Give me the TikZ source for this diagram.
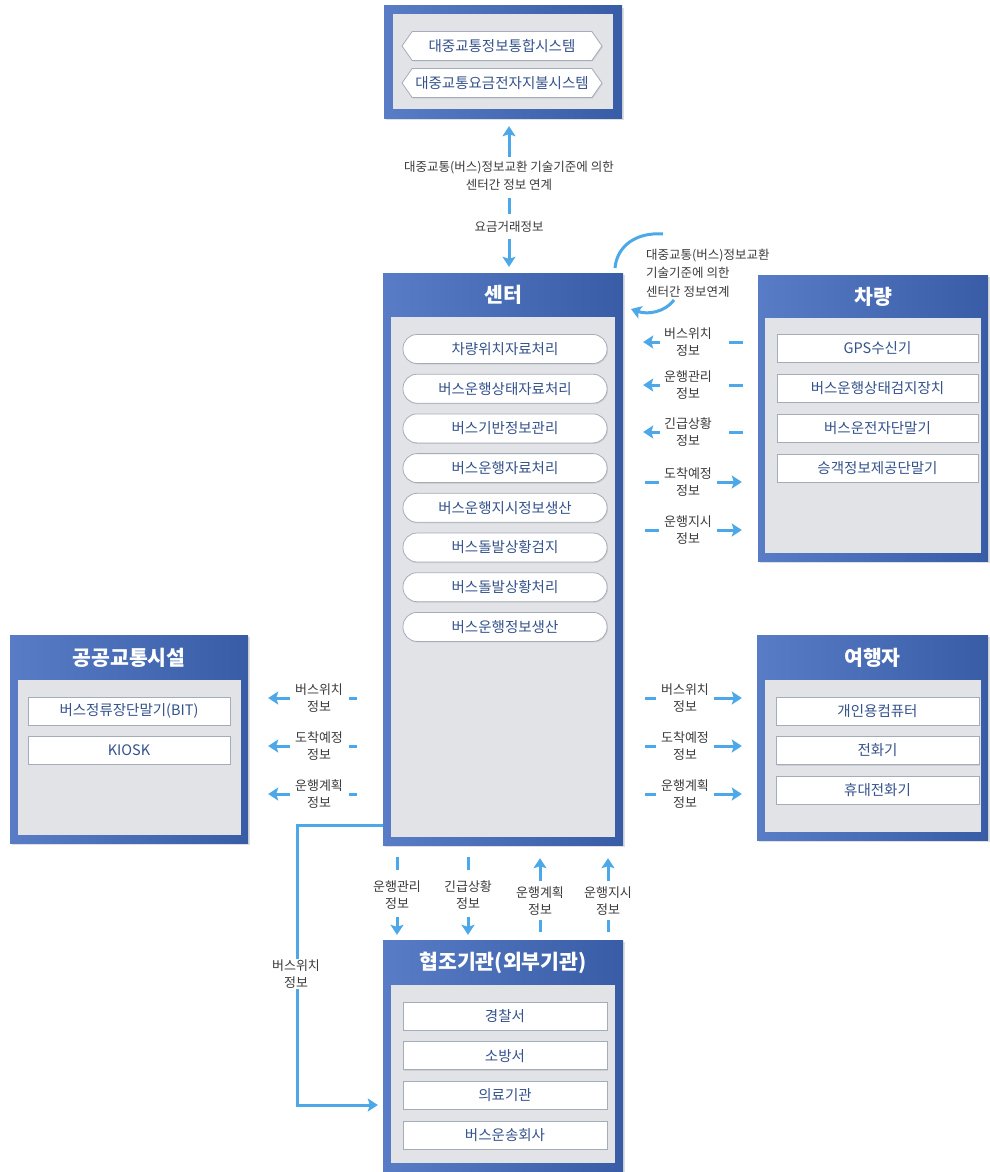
\documentclass[tikz,border=0pt]{standalone}
\usepackage{fontspec}
\setmainfont{Noto Sans CJK KR}
\usetikzlibrary{arrows.meta,shapes.symbols,shadows,calc}
\definecolor{frameA}{RGB}{88,124,198}
\definecolor{frameB}{RGB}{56,92,166}
\definecolor{innergray}{RGB}{226,227,230}
\definecolor{itemtext}{RGB}{52,82,140}
\definecolor{itemline}{RGB}{165,172,185}
\definecolor{arrowblue}{RGB}{76,168,232}
\definecolor{labeltext}{RGB}{60,60,60}
\tikzset{
 frame/.style={draw=none, left color=frameA, right color=frameB, inner sep=0pt,
   drop shadow={shadow xshift=2pt,shadow yshift=-2pt,opacity=0.25}},
 innerbox/.style={fill=innergray},
 headtxt/.style={text=white, font=\fontsize{20.5}{22}\selectfont\bfseries},
 item/.style={draw=itemline, line width=0.8pt, fill=white, minimum height=28pt,
   text=itemtext, font=\fontsize{14.5}{16}\selectfont, inner sep=0pt,
   drop shadow={shadow xshift=1pt,shadow yshift=-1pt,opacity=0.2}},
 pill/.style={item, rounded corners=14pt, minimum width=204pt, minimum height=29pt},
 hexa/.style={item, shape=signal, signal to=east and west, signal pointer angle=110,
   minimum width=200pt, minimum height=29pt},
 lbl/.style={text=labeltext, font=\fontsize{13}{17}\selectfont, align=center, inner sep=1pt},
 conn/.style={draw=arrowblue, line width=3pt},
 arr/.style={conn, -{Stealth[length=10pt,width=13pt,inset=2pt]}},
}
\begin{document}
\begin{tikzpicture}[x=1pt,y=-1pt]
\useasboundingbox[fill=white] (0,0) rectangle (989,1172);

% ---- top box
\node[frame, minimum width=238pt, minimum height=112pt] (T) at (503,62) {};
\fill[innerbox] ([xshift=9pt,yshift=-8pt]T.north west) rectangle ([xshift=-9pt,yshift=9pt]T.south east);
\node[hexa] (T1) at (502,46) {대중교통정보통합시스템};
\node[hexa] (T2) at (502,83) {대중교통요금전자지불시스템};

% ---- center box
\node[frame, minimum width=240pt, minimum height=572pt] (C) at (503,559) {};
\fill[innerbox] ([xshift=8pt,yshift=-44pt]C.north west) rectangle ([xshift=-8pt,yshift=8pt]C.south east);
\node[headtxt] at ([yshift=-22pt]C.north) {센터};
\foreach \t [count=\i] in {차량위치자료처리,버스운행상태자료처리,버스기반정보관리,버스운행자료처리,버스운행지시정보생산,버스돌발상황검지,버스돌발상황처리,버스운행정보생산}{
  \node[pill] (CP\i) at (505,{349+39.7*(\i-1)}) {\t};
}

% ---- vehicle box
\node[frame, minimum width=230pt, minimum height=286pt] (V) at (873,418) {};
\fill[innerbox] ([xshift=7pt,yshift=-43pt]V.north west) rectangle ([xshift=-7pt,yshift=8pt]V.south east);
\node[headtxt] at ([yshift=-22pt]V.north) {차량};
\foreach \t [count=\i] in {GPS수신기,버스운행상태검지장치,버스운전자단말기,승객정보제공단말기}{
  \node[item, minimum width=201pt] (VI\i) at (877.5,{348+40*(\i-1)}) {\t};
}

% ---- public transport facilities box
\node[frame, minimum width=238pt, minimum height=208pt] (P) at (129,739) {};
\fill[innerbox] ([xshift=8pt,yshift=-45pt]P.north west) rectangle ([xshift=-7pt,yshift=8pt]P.south east);
\node[headtxt] at ([yshift=-23pt]P.north) {공공교통시설};
\node[item, minimum width=202pt] (PI1) at (129,711) {버스정류장단말기(BIT)};
\node[item, minimum width=202pt] (PI2) at (129,750) {KIOSK};

% ---- traveller box
\node[frame, minimum width=231pt, minimum height=205pt] (R) at (872.5,737.5) {};
\fill[innerbox] ([xshift=8pt,yshift=-45pt]R.north west) rectangle ([xshift=-7pt,yshift=8pt]R.south east);
\node[headtxt] at ([yshift=-23pt]R.north) {여행자};
\foreach \t [count=\i] in {개인용컴퓨터,전화기,휴대전화기}{
  \node[item, minimum width=203pt] (RI\i) at (877.5,{711+39.5*(\i-1)}) {\t};
}

% ---- cooperating agencies box
\node[frame, minimum width=240pt, minimum height=231pt] (B) at (503,1055.5) {};
\fill[innerbox] ([xshift=8pt,yshift=-45pt]B.north west) rectangle ([xshift=-8pt,yshift=8pt]B.south east);
\node[headtxt] at ([yshift=-23pt]B.north) {협조기관(외부기관)};
\foreach \t [count=\i] in {경찰서,소방서,의료기관,버스운송회사}{
  \node[item, minimum width=204pt] (BI\i) at (505,{1016+39.7*(\i-1)}) {\t};
}

% ---- top connector
\node[lbl, font=\fontsize{12.5}{18}\selectfont] (TL1) at (509,176) {대중교통(버스)정보교환 기술기준에 의한\\센터간 정보 연계};
\node[lbl, font=\fontsize{12.5}{18}\selectfont] (TL2) at (509,227) {요금거래정보};
\draw[arr, shorten <=3pt, shorten >=8pt] (TL1.north) -- (TL1.north |- T.south);
\draw[conn, shorten <=6pt, shorten >=6pt] (TL1.south) -- (TL2.north);
\draw[arr, shorten <=5pt, shorten >=6pt] (TL2.south) -- (TL2.south |- C.north);

% ---- self loop
\coordinate (LA) at (615,268);
\coordinate (LB) at (663,234);
\coordinate (LC) at (674,300);
\coordinate (LD) at (631,309);
\draw[conn] (LA) .. controls (617,246) and (636,232) .. (LB);
\draw[arr] (LC) .. controls (665,312) and (648,315) .. (LD);
\node[lbl, align=left, anchor=west, font=\fontsize{12.5}{18.5}\selectfont] (LOOP) at (645,273) {대중교통(버스)정보교환\\기술기준에 의한\\센터간 정보연계};

% ---- center <-> vehicle
\foreach \y/\t [count=\i] in {342/버스위치,385/운행관리,432/긴급상황}{
  \node[lbl] (VA\i) at (688,\y) {\t\\정보};
  \draw[arr, shorten <=3pt, shorten >=20pt] (VA\i.west) -- (VA\i.west -| C.east);
  \draw[conn, shorten <=16pt, shorten >=15pt] (VA\i.east) -- (VA\i.east -| V.west);
}
\foreach \y/\t [count=\i] in {482/도착예정,530/운행지시}{
  \node[lbl] (VB\i) at (688,\y) {\t\\정보};
  \draw[conn, shorten <=22pt, shorten >=4pt] (C.east |- VB\i) -- (VB\i.west);
  \draw[arr, shorten <=4pt, shorten >=16pt] (VB\i.east) -- (VB\i.east -| V.west);
}

% ---- center -> traveller
\foreach \y/\t [count=\i] in {698/버스위치,746/도착예정,794/운행계획}{
  \node[lbl] (RL\i) at (685,\y) {\t\\정보};
  \draw[conn, shorten <=22pt, shorten >=4pt] (C.east |- RL\i) -- (RL\i.west);
  \draw[arr, shorten <=4pt, shorten >=15pt] (RL\i.east) -- (RL\i.east -| R.west);
}

% ---- center -> public facilities
\foreach \y/\t [count=\i] in {698/버스위치,746/도착예정,794/운행계획}{
  \node[lbl] (PL\i) at (319,\y) {\t\\정보};
  \draw[arr, shorten <=4pt, shorten >=20pt] (PL\i.west) -- (PL\i.west -| P.east);
  \draw[conn, shorten <=5pt, shorten >=26pt] (PL\i.east) -- (PL\i.east -| C.west);
}

% ---- center <-> cooperating agencies
\foreach \x/\t [count=\i] in {397/운행관리,468/긴급상황}{
  \node[lbl] (BD\i) at (\x,895) {\t\\정보};
  \draw[conn, shorten <=12pt, shorten >=9pt] (C.south -| BD\i) -- (BD\i.north);
  \draw[arr, shorten <=6pt, shorten >=5pt] (BD\i.south) -- (BD\i.south |- B.north);
}
\foreach \x/\t [count=\i] in {540/운행계획,608/운행지시}{
  \node[lbl] (BU\i) at (\x,901) {\t\\정보};
  \draw[arr, shorten <=4pt, shorten >=13pt] (BU\i.north) -- (BU\i.north |- C.south);
  \draw[conn, shorten <=3pt, shorten >=8pt] (BU\i.south) -- (BU\i.south |- B.north);
}

% ---- bus position to agencies
\coordinate (K1) at (297,825);
\coordinate (K2) at (297,1105);
\draw[arr, shorten >=5pt] (C.west |- K1) -- (K1) -- (K2) -- (B.west |- K2);
\node[lbl, fill=white] (KL) at (296,974) {버스위치\\정보};
\end{tikzpicture}
\end{document}
